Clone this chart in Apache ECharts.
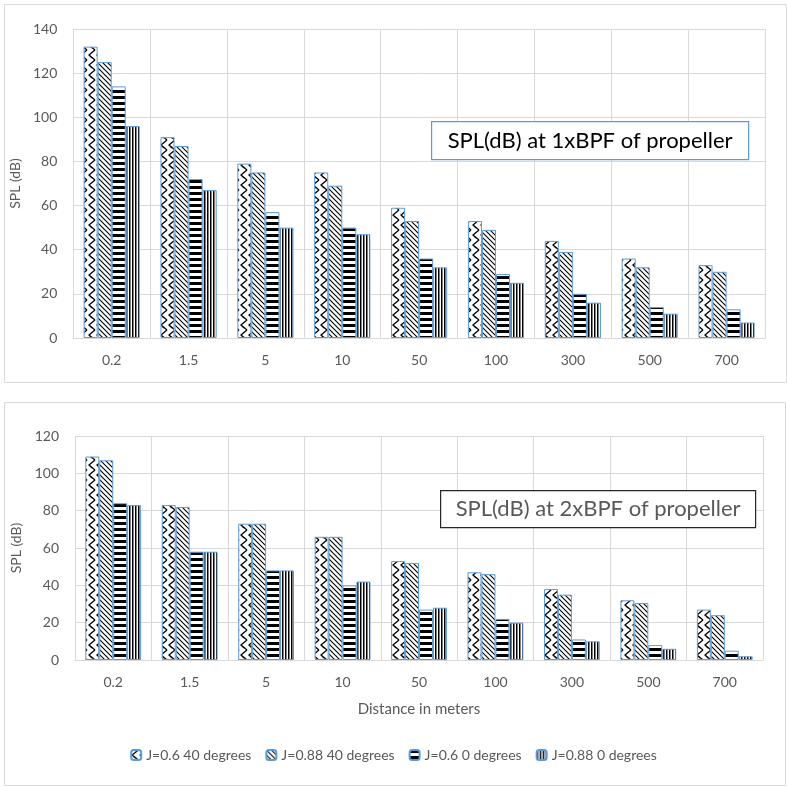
<!DOCTYPE html>
<html>
<head>
<meta charset="UTF-8">
<title>SPL vs distance</title>
<script src="https://cdn.jsdelivr.net/npm/echarts@6/dist/echarts.min.js"></script>
<style>
* { padding: 0; margin: 0; }
#main { width: 787px; height: 787px; background: #fff; }
</style>
</head>
<body>
<div id="main"></div>
<script>
var distances = ['0.2', '1.5', '5', '10', '50', '100', '300', '500', '700'];
var seriesNames = ['J=0.6 40 degrees', 'J=0.88 40 degrees', 'J=0.6 0 degrees', 'J=0.88 0 degrees'];

// 1xBPF
var bpf1_j06_40 = [132, 91, 79, 75, 59, 53, 44, 36, 33];
var bpf1_j088_40 = [125, 87, 75, 69, 53, 49, 39, 32, 30];
var bpf1_j06_0 = [114, 72, 57, 50, 36, 29, 20, 14, 13];
var bpf1_j088_0 = [96, 67, 50, 47, 32, 25, 16, 11, 7];

// 2xBPF
var bpf2_j06_40 = [109, 83, 73, 66, 53, 47, 38, 32, 27];
var bpf2_j088_40 = [107, 82, 73, 66, 52, 46, 35, 30.5, 24];
var bpf2_j06_0 = [84, 58, 48, 40, 27, 22, 11, 8, 5];
var bpf2_j088_0 = [83, 58, 48, 42, 28, 20, 10, 6, 2];

function makeTile(w, h, draw) {
  var c = document.createElement('canvas');
  c.width = w; c.height = h;
  var ctx = c.getContext('2d');
  ctx.fillStyle = '#fff';
  ctx.fillRect(0, 0, w, h);
  ctx.strokeStyle = '#000';
  ctx.fillStyle = '#000';
  draw(ctx);
  return { image: c, repeat: 'repeat' };
}

// herringbone-ish zig zag
var patZig = makeTile(8, 10, function (ctx) {
  ctx.lineWidth = 1.3;
  ctx.beginPath();
  ctx.moveTo(7, 0); ctx.lineTo(1, 5); ctx.lineTo(7, 10);
  ctx.moveTo(1, 5); ctx.lineTo(4, 8);
  ctx.stroke();
});
var patDiag = makeTile(5, 5, function (ctx) {
  ctx.lineWidth = 1.1;
  ctx.beginPath();
  ctx.moveTo(-1, -1); ctx.lineTo(6, 6);
  ctx.moveTo(-1, 4); ctx.lineTo(1, 6);
  ctx.moveTo(4, -1); ctx.lineTo(6, 1);
  ctx.stroke();
});
var patHoriz = makeTile(4, 6, function (ctx) {
  ctx.fillRect(0, 0, 4, 3);
});
var patVert = makeTile(3, 4, function (ctx) {
  ctx.fillRect(0, 0, 1.5, 4);
});
var patterns = [patZig, patDiag, patHoriz, patVert];

var gridColor = '#d9d9d9';
var textColor = '#595959';
var font = 'Lato';

function xAxisCfg(gridIndex, withName) {
  var a = {
    type: 'category',
    gridIndex: gridIndex,
    data: distances,
    axisLine: { lineStyle: { color: gridColor } },
    axisTick: { show: false },
    axisLabel: { color: textColor, fontSize: 14, fontFamily: font, margin: 15 },
    splitLine: { show: true, lineStyle: { color: gridColor } }
  };
  if (withName) {
    a.name = 'Distance in meters';
    a.nameLocation = 'middle';
    a.nameGap = 42;
    a.nameTextStyle = { color: textColor, fontSize: 15, fontFamily: font };
  }
  return a;
}

function yAxisCfg(gridIndex, max) {
  return {
    type: 'value',
    gridIndex: gridIndex,
    min: 0, max: max, interval: 20,
    name: 'SPL (dB)',
    nameLocation: 'middle',
    nameGap: 46,
    nameTextStyle: { color: textColor, fontSize: 14, fontFamily: font },
    axisLine: { show: true, lineStyle: { color: gridColor } },
    axisLabel: { color: textColor, fontSize: 14, fontFamily: font, margin: 16 },
    splitLine: { lineStyle: { color: gridColor } }
  };
}

function barSeries(i, idx, data) {
  return {
    name: seriesNames[i],
    type: 'bar',
    xAxisIndex: idx, yAxisIndex: idx,
    data: data,
    barGap: 0,
    barCategoryGap: '27%',
    itemStyle: { color: patterns[i], borderColor: '#5b9bd5', borderWidth: 1 }
  };
}

function textBox(x, y, w, h, txt, stroke, color) {
  return {
    type: 'group',
    left: x, top: y,
    z: 100,
    children: [
      { type: 'rect', z: 100, shape: { x: 0, y: 0, width: w, height: h },
        style: { fill: '#fff', stroke: stroke, lineWidth: 1.2 } },
      { type: 'text', z: 101, x: w / 2, y: h / 2,
        style: { text: txt, fill: color, font: '22px ' + font, textAlign: 'center', textVerticalAlign: 'middle' } }
    ]
  };
}

var chart = echarts.init(document.getElementById('main'));
chart.setOption({
  animation: false,
  backgroundColor: '#fff',
  grid: [
    { left: 73, right: 22, top: 29, height: 309 },
    { left: 75, right: 24, top: 436, height: 224 }
  ],
  xAxis: [xAxisCfg(0, false), xAxisCfg(1, true)],
  yAxis: [yAxisCfg(0, 140), yAxisCfg(1, 120)],
  legend: {
    bottom: 20,
    left: 'center',
    itemWidth: 10, itemHeight: 10, itemGap: 14,
    textStyle: { color: textColor, fontSize: 14, fontFamily: font },
    data: seriesNames
  },
  graphic: [
    { type: 'rect', left: 2, top: 2, z: -10, shape: { width: 782, height: 378 },
      style: { fill: 'none', stroke: gridColor, lineWidth: 1 } },
    { type: 'rect', left: 2, top: 400, z: -10, shape: { width: 781, height: 383 },
      style: { fill: 'none', stroke: gridColor, lineWidth: 1 } },
    textBox(431, 121, 317, 38, 'SPL(dB) at 1xBPF of propeller', '#5b9bd5', '#000'),
    textBox(440, 490, 315, 37, 'SPL(dB) at 2xBPF of propeller', '#262626', textColor)
  ],
  series: [
    barSeries(0, 0, bpf1_j06_40),
    barSeries(1, 0, bpf1_j088_40),
    barSeries(2, 0, bpf1_j06_0),
    barSeries(3, 0, bpf1_j088_0),
    barSeries(0, 1, bpf2_j06_40),
    barSeries(1, 1, bpf2_j088_40),
    barSeries(2, 1, bpf2_j06_0),
    barSeries(3, 1, bpf2_j088_0)
  ]
});
</script>
</body>
</html>
